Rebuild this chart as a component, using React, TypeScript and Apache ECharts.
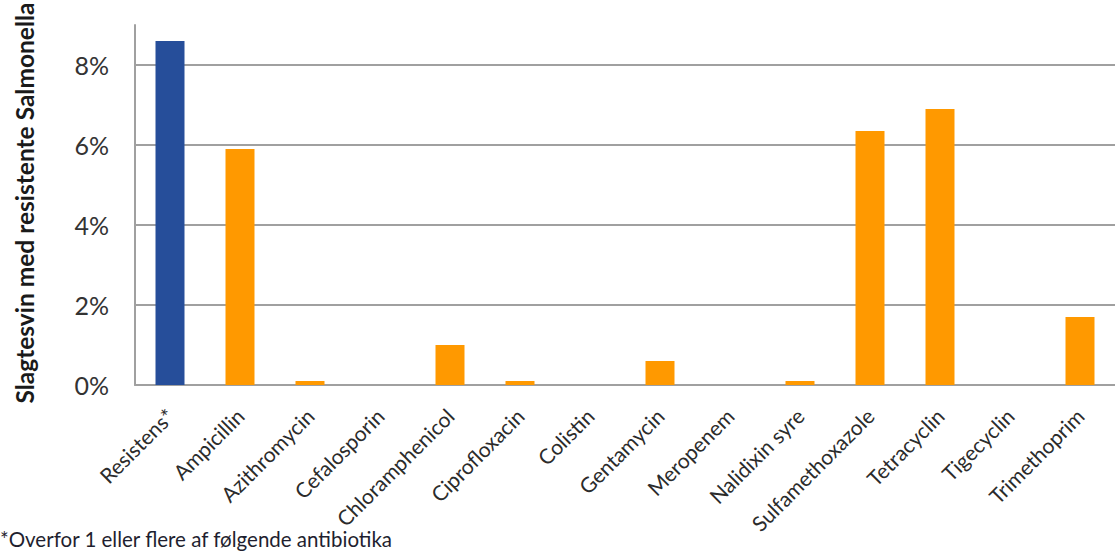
import React, { useEffect, useRef } from "react";
import * as echarts from "echarts";

// Andel slagtesvin med resistente Salmonella pr. antibiotikum (%)
const categories = [
  "Resistens*",
  "Ampicillin",
  "Azithromycin",
  "Cefalosporin",
  "Chloramphenicol",
  "Ciprofloxacin",
  "Colistin",
  "Gentamycin",
  "Meropenem",
  "Nalidixin syre",
  "Sulfamethoxazole",
  "Tetracyclin",
  "Tigecyclin",
  "Trimethoprim",
];

const values = [8.6, 5.9, 0.1, 0, 1.0, 0.1, 0, 0.6, 0, 0.1, 6.35, 6.9, 0, 1.7];

const yTicks = { min: 0, max: 9, interval: 2 };

const yTitle = "Slagtesvin med resistente Salmonella";
const footnote = "*Overfor 1 eller flere af følgende antibiotika";

const BLUE = "#264e9a";
const ORANGE = "#ff9900";
const FONT = "Lato, 'Open Sans', sans-serif";

export default function App() {
  const ref = useRef<HTMLDivElement>(null);

  useEffect(() => {
    if (!ref.current) return;
    const chart = echarts.init(ref.current, undefined, { renderer: "svg" });

    chart.setOption({
      animation: false,
      backgroundColor: "#ffffff",
      textStyle: { fontFamily: FONT },
      grid: { left: 135, right: -7, top: 25, bottom: 174, containLabel: false },
      xAxis: {
        type: "category",
        data: categories,
        axisLine: { show: true, lineStyle: { color: "#a0a0a0", width: 2 } },
        axisTick: { show: false },
        axisLabel: {
          rotate: 45,
          interval: 0,
          margin: 27,
          fontSize: 21,
          color: "#2b2b2b",
          fontFamily: FONT,
        },
      },
      yAxis: {
        type: "value",
        min: yTicks.min,
        max: yTicks.max,
        interval: yTicks.interval,
        axisLine: { show: true, lineStyle: { color: "#a0a0a0", width: 2 } },
        axisTick: { show: false },
        splitLine: {
          show: true,
          showMaxLine: false,
          lineStyle: { color: "#a0a0a0", width: 2 },
        },
        axisLabel: {
          formatter: "{value}%",
          showMaxLabel: false,
          margin: 26,
          fontSize: 25,
          color: "#333333",
          fontFamily: FONT,
        },
      },
      series: [
        {
          type: "bar",
          data: values.map((v, i) => ({
            value: v,
            itemStyle: { color: i === 0 ? BLUE : ORANGE },
          })),
          barWidth: 29,
        },
      ],
      graphic: [
        {
          type: "text",
          x: 24,
          y: 203,
          rotation: Math.PI / 2,
          style: {
            text: yTitle,
            fontSize: 24.5,
            fontWeight: "bold",
            fontFamily: FONT,
            fill: "#1a1a1a",
            textAlign: "center",
            textVerticalAlign: "middle",
          },
        },
        {
          type: "text",
          x: 0,
          y: 539,
          style: {
            text: footnote,
            fontSize: 20.5,
            fontFamily: FONT,
            fill: "#1f1f2f",
            textAlign: "left",
            textVerticalAlign: "middle",
          },
        },
      ],
    });

    return () => chart.dispose();
  }, []);

  return (
    <div
      ref={ref}
      style={{ position: "fixed", left: 0, top: 0, width: 1115, height: 559 }}
    />
  );
}
